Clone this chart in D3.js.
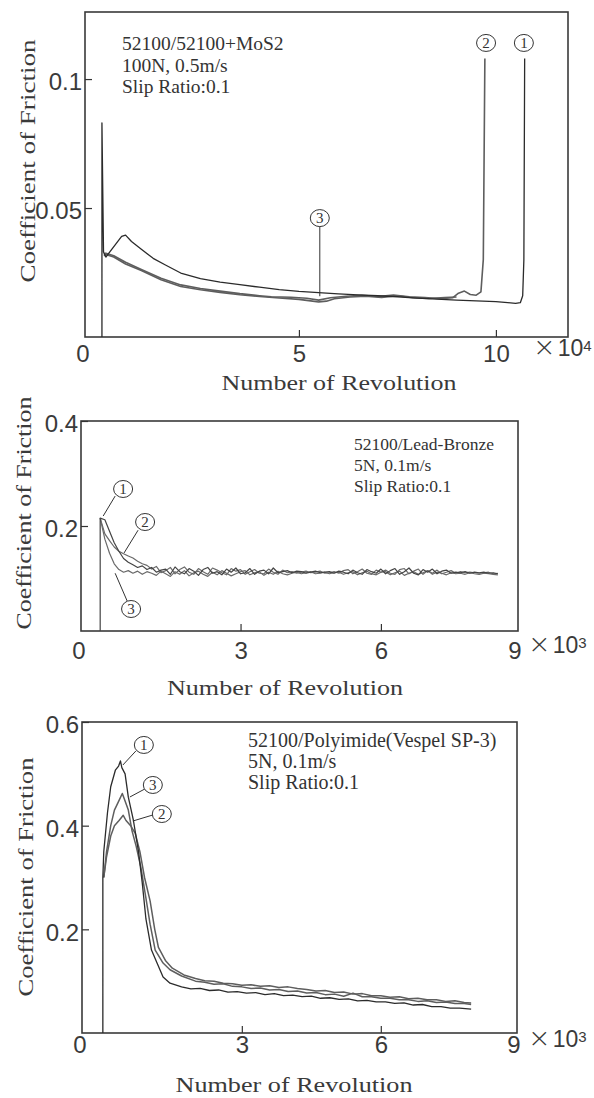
<!DOCTYPE html>
<html>
<head>
<meta charset="utf-8">
<script src="https://cdn.jsdelivr.net/npm/d3@7"></script>
<style>
  html, body { margin: 0; padding: 0; background: #fff; }
  svg { display: block; }
</style>
</head>
<body>
<svg id="fig" width="594" height="1098"></svg>
<script>
// ---------- Test 1: 52100/52100+MoS2 (revolutions x10^4) ----------
const mosRevs1 = [0, 0, 0.04, 0.1, 0.2, 0.35, 0.5, 0.6, 0.75, 1.0, 1.3, 1.6, 2.0, 2.5, 3.0, 3.5, 4.0, 4.5, 5.0, 5.5, 6.0, 6.5, 7.0, 7.5, 8.0, 8.5, 9.0, 9.5, 10.0, 10.3, 10.5, 10.62, 10.68, 10.71, 10.73];
const mosCof1  = [0, 0.083, 0.033, 0.031, 0.033, 0.036, 0.039, 0.0395, 0.037, 0.034, 0.0305, 0.028, 0.0248, 0.0226, 0.0213, 0.0203, 0.0193, 0.0184, 0.0177, 0.0172, 0.0167, 0.0163, 0.016, 0.0156, 0.0151, 0.0147, 0.0143, 0.014, 0.0137, 0.0133, 0.013, 0.0133, 0.016, 0.03, 0.108];
const mosRevs2 = [0.05, 0.1, 0.3, 0.6, 1.0, 1.5, 2.0, 2.5, 3.0, 3.5, 4.0, 4.3, 4.8, 5.2, 5.5, 5.8, 6.2, 6.6, 7.0, 7.4, 7.8, 8.2, 8.6, 8.9, 9.05, 9.2, 9.35, 9.5, 9.62, 9.68, 9.72];
const mosCof2  = [0.032, 0.0325, 0.0315, 0.029, 0.0262, 0.0228, 0.0202, 0.0188, 0.0178, 0.0168, 0.016, 0.0156, 0.0154, 0.015, 0.0143, 0.0152, 0.0158, 0.0162, 0.0157, 0.0163, 0.0156, 0.0153, 0.0148, 0.0152, 0.017, 0.0178, 0.0165, 0.0162, 0.0175, 0.03, 0.108];
const mosRevs3 = [0.05, 0.1, 0.3, 0.6, 1.0, 1.5, 2.0, 2.5, 3.0, 3.5, 4.0, 4.5, 5.0, 5.3, 5.5, 5.7, 5.9, 6.3, 6.7, 7.1, 7.5, 7.9, 8.3, 8.7, 9.0];
const mosCof3  = [0.0315, 0.032, 0.031, 0.0283, 0.0258, 0.0222, 0.0196, 0.0183, 0.0173, 0.0164, 0.0157, 0.0151, 0.0146, 0.014, 0.0136, 0.0139, 0.0148, 0.0155, 0.0158, 0.0153, 0.016, 0.0152, 0.0149, 0.0153, 0.0155];

// ---------- Test 2: 52100/Lead-Bronze (revolutions x10^3) ----------
const leadSpikeRevs = [0, 0];
const leadSpikeCof  = [0, 0.215];
const leadRevs = [0, 0.1, 0.2, 0.3, 0.4, 0.5, 0.6, 0.7, 0.8, 0.9, 1.0, 1.1, 1.2, 1.3, 1.4, 1.5, 1.6, 1.7, 1.8, 1.9, 2.0, 2.1, 2.2, 2.3, 2.4, 2.5, 2.6, 2.7, 2.8, 2.9, 3.0, 3.1, 3.2, 3.3, 3.4, 3.5, 3.6, 3.7, 3.8, 3.9, 4.0, 4.1, 4.2, 4.3, 4.4, 4.5, 4.6, 4.7, 4.8, 4.9, 5.0, 5.1, 5.2, 5.3, 5.4, 5.5, 5.6, 5.7, 5.8, 5.9, 6.0, 6.1, 6.2, 6.3, 6.4, 6.5, 6.6, 6.7, 6.8, 6.9, 7.0, 7.1, 7.2, 7.3, 7.4, 7.5, 7.6, 7.7, 7.8, 7.9, 8.0, 8.1, 8.2, 8.3, 8.4, 8.5];
const leadCof1 = [0.215,
  0.212, 0.19, 0.168, 0.152, 0.138, 0.131, 0.126, 0.121, 0.124, 0.117,
  0.121, 0.112, 0.116, 0.118, 0.108, 0.122, 0.113, 0.109, 0.119, 0.114,
  0.106, 0.117, 0.121, 0.11, 0.113, 0.107, 0.118, 0.112, 0.12, 0.109,
  0.111, 0.119, 0.108, 0.114, 0.116, 0.109, 0.12, 0.111, 0.113, 0.115,
  0.111, 0.114, 0.113, 0.11, 0.112, 0.114, 0.111, 0.112, 0.113, 0.11,
  0.114, 0.112, 0.109, 0.116, 0.111, 0.108, 0.117, 0.113, 0.11, 0.118,
  0.109, 0.115, 0.119, 0.108, 0.113, 0.12, 0.11, 0.107, 0.117, 0.112,
  0.118, 0.109, 0.114, 0.116, 0.11, 0.112, 0.111, 0.113, 0.11, 0.112,
  0.111, 0.112, 0.11, 0.111, 0.109];
const leadCof2 = [0.215,
  0.185, 0.172, 0.16, 0.152, 0.147, 0.143, 0.139, 0.133, 0.128, 0.125,
  0.118, 0.123, 0.111, 0.115, 0.121, 0.109, 0.117, 0.122, 0.112, 0.108,
  0.119, 0.113, 0.108, 0.12, 0.116, 0.111, 0.107, 0.119, 0.114, 0.117,
  0.108, 0.113, 0.117, 0.11, 0.109, 0.118, 0.112, 0.108, 0.116, 0.111,
  0.113, 0.11, 0.112, 0.114, 0.111, 0.112, 0.114, 0.11, 0.111, 0.113,
  0.11, 0.115, 0.117, 0.109, 0.113, 0.118, 0.11, 0.108, 0.116, 0.112,
  0.116, 0.11, 0.108, 0.117, 0.119, 0.109, 0.114, 0.118, 0.108, 0.115,
  0.11, 0.116, 0.109, 0.112, 0.115, 0.11, 0.113, 0.111, 0.112, 0.111,
  0.11, 0.111, 0.112, 0.109, 0.11];
const leadCof3 = [0.215,
  0.175, 0.148, 0.128, 0.117, 0.112, 0.115, 0.11, 0.114, 0.108, 0.113,
  0.11, 0.106, 0.114, 0.109, 0.104, 0.113, 0.108, 0.115, 0.105, 0.111,
  0.114, 0.108, 0.104, 0.112, 0.107, 0.115, 0.11, 0.105, 0.109, 0.113,
  0.115, 0.107, 0.111, 0.113, 0.106, 0.112, 0.108, 0.114, 0.109, 0.107,
  0.11, 0.112, 0.109, 0.111, 0.113, 0.109, 0.11, 0.112, 0.109, 0.111,
  0.112, 0.108, 0.111, 0.113, 0.107, 0.111, 0.114, 0.109, 0.107, 0.112,
  0.113, 0.107, 0.111, 0.114, 0.106, 0.11, 0.113, 0.108, 0.111, 0.115,
  0.108, 0.112, 0.11, 0.107, 0.111, 0.109, 0.11, 0.108, 0.111, 0.109,
  0.108, 0.11, 0.109, 0.108, 0.107];

// ---------- Test 3: 52100/Polyimide (Vespel SP-3) (revolutions x10^3) ----------
const polyRevs1 = [0, 0, 0.02, 0.1, 0.17, 0.27, 0.34, 0.38, 0.41, 0.48, 0.55, 0.66, 0.77, 0.85, 0.93, 1.05, 1.17, 1.3, 1.45,
  1.7, 1.9, 2.1, 2.3, 2.5, 2.7, 2.9, 3.1, 3.3, 3.5, 3.7, 3.9, 4.1, 4.3, 4.5, 4.7, 4.9, 5.1, 5.3, 5.5, 5.7, 5.9, 6.1, 6.3, 6.5, 6.7, 6.9, 7.1, 7.3, 7.5, 7.7, 7.95];
const polyCof1  = [0, 0.30, 0.35, 0.425, 0.475, 0.507, 0.515, 0.525, 0.512, 0.50, 0.455, 0.41, 0.35, 0.29, 0.22, 0.16, 0.135, 0.108, 0.096,
  0.089, 0.085, 0.086, 0.082, 0.083, 0.079, 0.08, 0.077, 0.078, 0.074, 0.076, 0.072, 0.073, 0.07, 0.071, 0.067, 0.068, 0.065, 0.066, 0.062, 0.063, 0.06, 0.06, 0.057, 0.058, 0.054, 0.055, 0.051, 0.051, 0.048, 0.048, 0.046];
const polyRevs2 = [0.02, 0.08, 0.17, 0.25, 0.35, 0.44, 0.5, 0.6, 0.7, 0.8, 0.9, 1.02, 1.12, 1.2, 1.35, 1.5, 1.75,
  2.0, 2.2, 2.4, 2.6, 2.8, 3.0, 3.2, 3.4, 3.6, 3.8, 4.0, 4.2, 4.4, 4.6, 4.8, 5.0, 5.2, 5.4, 5.6, 5.8, 6.0, 6.2, 6.4, 6.6, 6.8, 7.0, 7.2, 7.4, 7.6, 7.8, 7.95];
const polyCof2  = [0.30, 0.34, 0.38, 0.40, 0.41, 0.42, 0.41, 0.40, 0.385, 0.35, 0.30, 0.255, 0.20, 0.165, 0.14, 0.125, 0.112,
  0.105, 0.101, 0.1, 0.096, 0.095, 0.092, 0.093, 0.09, 0.091, 0.088, 0.089, 0.086, 0.084, 0.081, 0.082, 0.078, 0.079, 0.075, 0.076, 0.072, 0.072, 0.069, 0.07, 0.066, 0.067, 0.064, 0.064, 0.061, 0.062, 0.059, 0.058];
const polyRevs3 = [0.02, 0.08, 0.17, 0.25, 0.33, 0.42, 0.47, 0.55, 0.63, 0.72, 0.82, 0.93, 1.02, 1.13, 1.3, 1.45, 1.7,
  2.0, 2.2, 2.4, 2.6, 2.8, 3.0, 3.2, 3.4, 3.6, 3.8, 4.0, 4.2, 4.4, 4.6, 4.8, 5.0, 5.2, 5.4, 5.6, 5.8, 6.0, 6.2, 6.4, 6.6, 6.8, 7.0, 7.2, 7.4, 7.6, 7.8, 7.95];
const polyCof3  = [0.30, 0.35, 0.40, 0.43, 0.445, 0.462, 0.45, 0.43, 0.39, 0.36, 0.32, 0.26, 0.21, 0.16, 0.135, 0.122, 0.11,
  0.1, 0.098, 0.094, 0.095, 0.09, 0.089, 0.086, 0.087, 0.083, 0.084, 0.08, 0.081, 0.077, 0.078, 0.074, 0.075, 0.071, 0.077, 0.07, 0.07, 0.067, 0.067, 0.064, 0.064, 0.061, 0.062, 0.059, 0.06, 0.057, 0.057, 0.055];

// ---------- axis ticks and captions ----------
const mosTicksX = [5, 10];
const mosTicksY = [0.05, 0.1];
const revTicksX = [3, 6];
const leadTicksY = [0.2, 0.4];
const polyTicksY = [0.2, 0.4, 0.6];
const mosNotes  = ["52100/52100+MoS2", "100N, 0.5m/s", "Slip Ratio:0.1"];
const leadNotes = ["52100/Lead-Bronze", "5N, 0.1m/s", "Slip Ratio:0.1"];
const polyNotes = ["52100/Polyimide(Vespel SP-3)", "5N, 0.1m/s", "Slip Ratio:0.1"];

const serif = "'Liberation Serif', 'Times New Roman', serif";
const sans = "'Liberation Sans', Arial, sans-serif";
const ink = "#333";

const svg = d3.select("#fig");

function drawPanel(p) {
  const g = svg.append("g");
  const x = d3.scaleLinear().domain(p.xDom).range([p.box.l, p.box.r]);
  const y = d3.scaleLinear().domain(p.yDom).range([p.box.b, p.box.t]);

  // frame
  g.append("rect")
    .attr("x", p.box.l).attr("y", p.box.t)
    .attr("width", p.box.r - p.box.l).attr("height", p.box.b - p.box.t)
    .attr("fill", "none").attr("stroke", "#3a3a3a").attr("stroke-width", 1.6);

  const styleAxis = sel => {
    sel.select(".domain").remove();
    sel.selectAll(".tick line").attr("stroke", ink).attr("stroke-width", 1.2);
    sel.selectAll(".tick text").attr("fill", "#3a3a3a")
      .style("font-family", sans).style("font-size", "24px");
  };

  g.append("g").attr("transform", `translate(0,${p.box.b})`)
    .call(d3.axisBottom(x).tickValues(p.xTicks).tickSizeInner(-7).tickSizeOuter(0)
      .tickPadding(p.xPad).tickFormat(d3.format("d")))
    .call(styleAxis);

  g.append("g").attr("transform", `translate(${p.box.l},0)`)
    .call(d3.axisLeft(y).tickValues(p.yTicks).tickSizeInner(-7).tickSizeOuter(0)
      .tickPadding(3).tickFormat(d => String(d)))
    .call(styleAxis)
    .call(s => s.selectAll(".tick text").attr("dy", "0.45em"));

  // corner labels of the x axis and the exponent
  const cornerY = p.box.b + p.xPad;
  g.append("text").attr("x", p.box.l - 2).attr("y", cornerY).attr("dy", "0.71em")
    .attr("text-anchor", "middle").attr("fill", "#3a3a3a")
    .style("font-family", sans).style("font-size", "24px").text("0");
  if (p.endLabel) {
    g.append("text").attr("x", p.box.r - 3).attr("y", cornerY).attr("dy", "0.71em")
      .attr("text-anchor", "middle").attr("fill", "#3a3a3a")
      .style("font-family", sans).style("font-size", "24px").text(p.endLabel);
  }
  const ex = g.append("text").attr("x", p.expX).attr("y", cornerY).attr("dy", "0.71em")
    .attr("fill", "#3a3a3a").style("font-family", sans);
  ex.append("tspan").style("font-family", "'DejaVu Sans', sans-serif")
    .style("font-size", "27px").style("font-weight", "200").text("\u00d7");
  ex.append("tspan").attr("dx", 2).style("font-size", "23px").text("10");
  ex.append("tspan").attr("dy", -5).style("font-size", "15px").text(p.exponent);

  // axis titles
  g.append("text").attr("x", p.xTitle[0]).attr("y", p.xTitle[1])
    .attr("text-anchor", "middle").attr("fill", "#3a3a3a")
    .attr("textLength", p.xTitle[2]).attr("lengthAdjust", "spacingAndGlyphs")
    .style("font-family", serif).style("font-size", "21px")
    .text("Number of Revolution");
  g.append("text")
    .attr("transform", `translate(${p.yTitle[0]},${p.yTitle[1]}) rotate(-90)`)
    .attr("text-anchor", "middle").attr("fill", "#3a3a3a")
    .attr("textLength", p.yTitle[2]).attr("lengthAdjust", "spacingAndGlyphs")
    .style("font-family", serif).style("font-size", "21px")
    .text("Coefficient of Friction");

  // test conditions
  const note = g.append("text").attr("fill", ink)
    .style("font-family", serif).style("font-size", p.noteSize + "px");
  p.notes.forEach((t, i) => {
    note.append("tspan").attr("x", p.noteX).attr("y", p.noteY + i * p.noteGap).text(t);
  });

  // friction traces
  const line = d3.line().x(d => x(d[0])).y(d => y(d[1]));
  p.series.forEach(s => {
    g.append("path").datum(d3.zip(s.revs, s.cof))
      .attr("d", line).attr("fill", "none")
      .attr("stroke", s.color).attr("stroke-width", s.width)
      .attr("stroke-linejoin", "round");
  });

  // numbered callouts
  p.callouts.forEach(c => {
    if (c.from) {
      g.append("line")
        .attr("x1", x(c.from[0])).attr("y1", y(c.from[1]))
        .attr("x2", x(c.to[0])).attr("y2", y(c.to[1]))
        .attr("stroke", ink).attr("stroke-width", 1);
    }
    g.append("ellipse").attr("cx", x(c.at[0])).attr("cy", y(c.at[1]))
      .attr("rx", 9.5).attr("ry", 8.5)
      .attr("fill", "#fff").attr("stroke", ink).attr("stroke-width", 1);
    g.append("text").attr("x", x(c.at[0])).attr("y", y(c.at[1])).attr("dy", "0.36em")
      .attr("text-anchor", "middle").attr("fill", ink)
      .style("font-family", serif).style("font-size", "15px").text(c.label);
  });
}

const dark = "#2b2b2b", grey = "#5e5e5e";

drawPanel({
  box: { l: 85, r: 568, t: 12, b: 337 },
  xDom: [-0.43, 11.83], yDom: [0, 0.126],
  xTicks: mosTicksX, yTicks: mosTicksY, xPad: 8,
  endLabel: null, expX: 533, exponent: "4",
  xTitle: [339, 390, 235], yTitle: [35, 161, 243],
  notes: mosNotes, noteX: 122, noteY: 50, noteGap: 21.5, noteSize: 19.5,
  series: [
    { revs: mosRevs3, cof: mosCof3, color: grey, width: 1.6 },
    { revs: mosRevs2, cof: mosCof2, color: grey, width: 1.6 },
    { revs: mosRevs1, cof: mosCof1, color: dark, width: 1.3 }
  ],
  callouts: [
    { label: "2", at: [9.75, 0.114] },
    { label: "1", at: [10.71, 0.114] },
    { label: "3", at: [5.53, 0.0461], from: [5.53, 0.0428], to: [5.53, 0.0158] }
  ]
});

drawPanel({
  box: { l: 81, r: 518, t: 421, b: 631 },
  xDom: [-0.41, 8.93], yDom: [0, 0.4],
  xTicks: revTicksX, yTicks: leadTicksY, xPad: 11,
  endLabel: "9", expX: 528, exponent: "3",
  xTitle: [285, 695, 236], yTitle: [31, 513, 233],
  notes: leadNotes, noteX: 354, noteY: 450, noteGap: 21, noteSize: 17.5,
  series: [
    { revs: leadRevs, cof: leadCof3, color: "#6a6a6a", width: 1.2 },
    { revs: leadRevs, cof: leadCof2, color: "#6a6a6a", width: 1.2 },
    { revs: leadSpikeRevs.concat(leadRevs), cof: leadSpikeCof.concat(leadCof1), color: "#444", width: 1.2 }
  ],
  callouts: [
    { label: "1", at: [0.49, 0.2705], from: [0.32, 0.257], to: [0.064, 0.219] },
    { label: "2", at: [0.96, 0.2076], from: [0.81, 0.192], to: [0.51, 0.1486] },
    { label: "3", at: [0.66, 0.0419], from: [0.577, 0.0571], to: [0.32, 0.110] }
  ]
});

drawPanel({
  box: { l: 82, r: 517, t: 722, b: 1033 },
  xDom: [-0.45, 8.94], yDom: [0, 0.6],
  xTicks: revTicksX, yTicks: polyTicksY, xPad: 3,
  endLabel: "9", expX: 528, exponent: "3",
  xTitle: [294, 1092, 237], yTitle: [33, 877, 239],
  notes: polyNotes, noteX: 248, noteY: 747, noteGap: 21, noteSize: 20,
  series: [
    { revs: polyRevs2, cof: polyCof2, color: grey, width: 1.5 },
    { revs: polyRevs3, cof: polyCof3, color: grey, width: 1.5 },
    { revs: polyRevs1, cof: polyCof1, color: dark, width: 1.3 }
  ],
  callouts: [
    { label: "1", at: [0.885, 0.5557], from: [0.712, 0.544], to: [0.432, 0.517] },
    { label: "3", at: [1.079, 0.4785], from: [0.907, 0.4708], to: [0.583, 0.4553] },
    { label: "2", at: [1.273, 0.4225], from: [1.079, 0.4206], to: [0.648, 0.409] }
  ]
});
</script>
</body>
</html>
